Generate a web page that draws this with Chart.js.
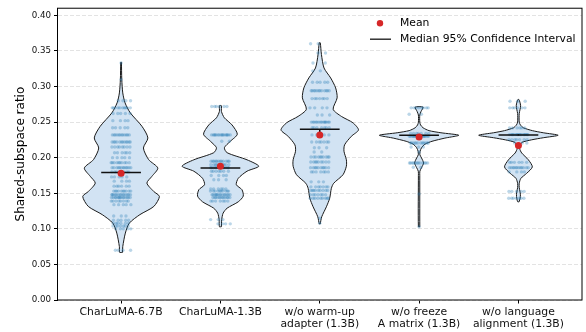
<!DOCTYPE html>
<html>
<head>
<meta charset="utf-8">
<script src="https://cdn.jsdelivr.net/npm/chart.js@4.4.1/dist/chart.umd.min.js"></script>
<style>
  html, body { margin: 0; padding: 0; background: #fff; }
  #wrap { width: 586px; height: 332px; }
</style>
</head>
<body>
<div id="wrap"><canvas id="violins"></canvas></div>
<script>
// categories (x axis)
const categories = [
    ["CharLuMA-6.7B"],
    ["CharLuMA-1.3B"],
    ["w/o warm-up", "adapter (1.3B)"],
    ["w/o freeze", "A matrix (1.3B)"],
    ["w/o language", "alignment (1.3B)"]
];

// violin outlines: value levels and half widths (in category units)
const violinLevels = [
    [0.067, 0.075, 0.094, 0.108, 0.120, 0.1315, 0.1455, 0.1526, 0.1643, 0.1737, 0.1854, 0.1972, 0.2136, 0.2277, 0.2441, 0.2629, 0.277, 0.291, 0.310, 0.334],
    [0.103, 0.113, 0.122, 0.129, 0.138, 0.146, 0.155, 0.162, 0.171, 0.181, 0.188, 0.197, 0.207, 0.214, 0.223, 0.233, 0.246, 0.256, 0.265, 0.273],
    [0.107, 0.117, 0.131, 0.143, 0.157, 0.164, 0.176, 0.188, 0.197, 0.209, 0.218, 0.230, 0.239, 0.249, 0.258, 0.268, 0.284, 0.298, 0.312, 0.326, 0.345, 0.3615],
    [0.103, 0.175, 0.181, 0.186, 0.1925, 0.1995, 0.204, 0.209, 0.214, 0.219, 0.223, 0.2275, 0.2315, 0.235, 0.238, 0.242, 0.246, 0.250, 0.260, 0.265, 0.271],
    [0.138, 0.143, 0.148, 0.153, 0.158, 0.164, 0.171, 0.178, 0.187, 0.197, 0.2066, 0.213, 0.218, 0.2215, 0.225, 0.228, 0.2315, 0.235, 0.238, 0.242, 0.246, 0.250, 0.262, 0.268, 0.273, 0.278, 0.2817]
];
const violinWidths = [
    [0.015, 0.017, 0.043, 0.083, 0.19, 0.33, 0.386, 0.328, 0.26, 0.31, 0.37, 0.278, 0.225, 0.27, 0.21, 0.093, 0.04, 0.017, 0.007, 0.003],
    [0.01, 0.013, 0.027, 0.067, 0.18, 0.23, 0.217, 0.16, 0.18, 0.268, 0.386, 0.268, 0.067, 0.04, 0.10, 0.17, 0.117, 0.04, 0.01, 0.01],
    [0.005, 0.02, 0.067, 0.10, 0.117, 0.14, 0.234, 0.268, 0.268, 0.244, 0.25, 0.318, 0.39, 0.334, 0.218, 0.135, 0.175, 0.16, 0.11, 0.043, 0.017, 0.005],
    [0.007, 0.007, 0.008, 0.025, 0.045, 0.025, 0.008, 0.01, 0.025, 0.06, 0.13, 0.26, 0.40, 0.22, 0.10, 0.04, 0.015, 0.007, 0.007, 0.02, 0.04],
    [0.007, 0.017, 0.02, 0.015, 0.008, 0.008, 0.025, 0.083, 0.14, 0.10, 0.033, 0.012, 0.02, 0.035, 0.13, 0.25, 0.40, 0.25, 0.14, 0.05, 0.02, 0.008, 0.008, 0.017, 0.022, 0.015, 0.005]
];

// scatter points: value levels and how many points sit at each
const pointLevels = [
    [0.333, 0.310, 0.280, 0.270, 0.262, 0.252, 0.242, 0.232, 0.222, 0.215, 0.207, 0.200, 0.193, 0.186, 0.180, 0.173, 0.167, 0.160, 0.153, 0.148, 0.144, 0.139, 0.134, 0.118, 0.112, 0.108, 0.104, 0.100, 0.070],
    [0.272, 0.232, 0.223, 0.195, 0.190, 0.186, 0.181, 0.175, 0.169, 0.156, 0.153, 0.148, 0.144, 0.139, 0.113, 0.107],
    [0.360, 0.347, 0.333, 0.322, 0.306, 0.294, 0.283, 0.270, 0.260, 0.250, 0.242, 0.232, 0.222, 0.214, 0.208, 0.201, 0.194, 0.186, 0.180, 0.166, 0.159, 0.154, 0.148, 0.143, 0.115, 0.108],
    [0.270, 0.261, 0.234, 0.230, 0.2207, 0.215, 0.208, 0.1925, 0.1865, 0.149, 0.103],
    [0.2793, 0.270, 0.2418, 0.2324, 0.2254, 0.2207, 0.1934, 0.186, 0.180, 0.1526, 0.143]
];
const pointCounts = [
    [1, 1, 4, 10, 5, 4, 5, 12, 12, 8, 6, 5, 10, 12, 8, 5, 4, 6, 10, 14, 14, 8, 5, 3, 5, 6, 7, 5, 4],
    [6, 16, 2, 12, 10, 12, 7, 4, 3, 6, 10, 14, 12, 7, 3, 4],
    [2, 2, 2, 2, 5, 12, 7, 4, 3, 14, 7, 6, 7, 3, 2, 10, 9, 10, 7, 3, 7, 9, 7, 9, 1, 1],
    [8, 2, 7, 18, 12, 3, 1, 12, 2, 1, 1],
    [3, 6, 6, 18, 7, 3, 6, 12, 4, 5, 7]
];

// summary statistics
const means = [0.178, 0.188, 0.232, 0.229, 0.217];
const medians = [0.179, 0.1855, 0.240, 0.2315, 0.232];
const ciLow = [0.178, 0.185, 0.235, 0.231, 0.231];
const ciHigh = [0.181, 0.187, 0.240, 0.232, 0.233];

// y axis
const yMin = 0;
const yMax = 0.41;
const yStep = 0.05;

// ---- build datasets ----
const violinData = violinLevels.map((levels, i) => {
    const w = violinWidths[i];
    const right = levels.map((v, k) => ({ x: i + w[k], y: v }));
    const left = levels.map((v, k) => ({ x: i - w[k], y: v })).reverse();
    return right.concat(left, [right[0]]);
});

// points of a row are spread across the middle of the violin
const spread = 0.1;
const pointData = [];
pointLevels.forEach((levels, i) => {
    levels.forEach((v, k) => {
        const n = pointCounts[i][k];
        for (let j = 0; j < n; j++) {
            const t = n === 1 ? 0.5 : (j * 0.618 + k * 0.37 + i * 0.21) % 1;
            pointData.push({ x: i - spread + 2 * spread * t, y: v });
        }
    });
});

const datasets = [];

datasets.push({
    label: "Mean",
    data: means.map((m, i) => ({ x: i, y: m })),
    pointRadius: 3.5,
    pointBackgroundColor: "#d62728",
    pointBorderWidth: 0,
    showLine: false,
    order: 0
});

medians.forEach((m, i) => {
    datasets.push({
        label: "median" + i,
        data: [{ x: i - 0.2, y: m }, { x: i + 0.2, y: m }],
        showLine: true,
        borderColor: "#111",
        borderWidth: 1.5,
        pointRadius: 0,
        order: 1
    });
    datasets.push({
        label: "ci" + i,
        data: [{ x: i, y: ciLow[i] }, { x: i, y: ciHigh[i] }],
        showLine: true,
        borderColor: "#111",
        borderWidth: 1.5,
        pointRadius: 0,
        order: 1
    });
});

datasets.push({
    label: "points",
    data: pointData,
    pointRadius: 1.7,
    pointBackgroundColor: "rgba(31,119,180,0.3)",
    pointBorderWidth: 0,
    showLine: false,
    order: 2
});

violinData.forEach((d, i) => {
    datasets.push({
        label: "violin" + i,
        data: d,
        showLine: true,
        fill: "shape",
        backgroundColor: "#d2e3f3",
        borderColor: "#1a1a1a",
        borderWidth: 1,
        tension: 0.25,
        pointRadius: 0,
        order: 3
    });
});

// frame + legend drawn on top
const frameAndLegend = {
    id: "frameAndLegend",
    afterDraw(chart) {
        const ctx = chart.ctx;
        const a = chart.chartArea;
        ctx.save();
        ctx.strokeStyle = "#000";
        ctx.lineWidth = 1;
        ctx.strokeRect(a.left, a.top, a.right - a.left, a.bottom - a.top);

        ctx.font = '10.8px "DejaVu Sans"';
        ctx.fillStyle = "#000";
        ctx.textBaseline = "middle";
        ctx.textAlign = "left";
        const tx = a.right - 182;
        ctx.fillText("Mean", tx, a.top + 15);
        ctx.fillText("Median 95% Confidence Interval", tx, a.top + 31);

        ctx.fillStyle = "#d62728";
        ctx.beginPath();
        ctx.arc(a.right - 202, a.top + 15, 3.2, 0, Math.PI * 2);
        ctx.fill();

        ctx.strokeStyle = "#333";
        ctx.lineWidth = 1.5;
        ctx.beginPath();
        ctx.moveTo(a.right - 212, a.top + 31);
        ctx.lineTo(a.right - 191, a.top + 31);
        ctx.stroke();
        ctx.restore();
    }
};

new Chart(document.getElementById("violins"), {
    type: "scatter",
    data: { datasets: datasets },
    options: {
        responsive: true,
        maintainAspectRatio: false,
        animation: false,
        events: [],
        layout: { padding: { left: 14, right: 2, top: 8, bottom: 0 } },
        plugins: {
            legend: { display: false },
            tooltip: { enabled: false }
        },
        scales: {
            x: {
                type: "linear",
                min: -0.64,
                max: 4.64,
                afterBuildTicks: (scale) => {
                    scale.ticks = categories.map((c, i) => ({ value: i }));
                },
                afterFit: (scale) => { scale.height = 32; },
                grid: {
                    drawOnChartArea: false,
                    drawTicks: true,
                    tickLength: 3.5,
                    tickColor: "#000",
                    tickWidth: 1
                },
                border: { display: false },
                ticks: {
                    autoSkip: false,
                    maxRotation: 0,
                    padding: 2,
                    color: "#111",
                    font: { family: "DejaVu Sans", size: 10.8, lineHeight: 1.16 },
                    callback: (v) => categories[Math.round(v)]
                }
            },
            y: {
                type: "linear",
                min: yMin,
                max: yMax,
                afterFit: (scale) => { scale.width = 43.5; },
                title: {
                    display: true,
                    text: "Shared-subspace ratio",
                    color: "#000",
                    padding: 0,
                    font: { family: "DejaVu Sans", size: 12 }
                },
                grid: {
                    color: "#dcdcdc",
                    lineWidth: 0.8,
                    drawTicks: true,
                    tickLength: 3.5,
                    tickColor: "#000",
                    tickWidth: 1,
                    tickBorderDash: []
                },
                border: { display: false, dash: [4, 2] },
                ticks: {
                    stepSize: yStep,
                    includeBounds: false,
                    padding: 3,
                    color: "#111",
                    font: { family: "DejaVu Sans", size: 8.7 },
                    callback: (v) => v.toFixed(2)
                }
            }
        }
    },
    plugins: [frameAndLegend]
});
</script>
</body>
</html>
